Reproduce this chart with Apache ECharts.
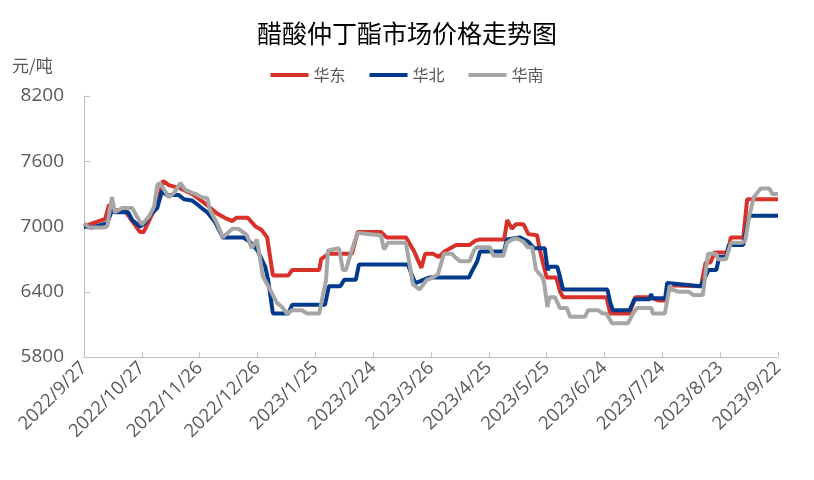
<!DOCTYPE html>
<html>
<head>
<meta charset="utf-8">
<script src="https://cdn.jsdelivr.net/npm/echarts@6/dist/echarts.min.js"></script>
<style>html,body{margin:0;padding:0;background:#fff}#c{width:814px;height:480px}</style>
</head>
<body>
<div id="c"></div>
<script>
// x = days since 2022/9/27, y = price (元/吨)
var xTickLabels = ['2022/9/27','2022/10/27','2022/11/26','2022/12/26','2023/1/25','2023/2/24','2023/3/26','2023/4/25','2023/5/25','2023/6/24','2023/7/24','2023/8/23','2023/9/22'];
var seriesNames = ['华东','华北','华南'];

var eastChina = [[0,7000],[11,7070],[13,7200],[16,7150],[21,7150],[25,7050],[29,6950],[31,6950],[35,7100],[38,7200],[41,7420],[44,7380],[50,7350],[56,7300],[60,7250],[65,7180],[69,7120],[73,7080],[77,7050],[79,7080],[85,7080],[89,7000],[92,6970],[95,6900],[98,6550],[106,6550],[108,6600],[122,6600],[123,6700],[127,6750],[139,6750],[142,6950],[154,6950],[157,6900],[167,6900],[171,6780],[175,6620],[177,6750],[181,6750],[184,6720],[187,6770],[193,6830],[200,6830],[203,6870],[205,6880],[218,6880],[219.5,7060],[222,6980],[224,7020],[228,7020],[230.5,6930],[235,6920],[236.5,6780],[240,6530],[245,6530],[247,6400],[248.5,6350],[271,6350],[273,6200],[283,6200],[286,6350],[293,6350],[298,6320],[302,6320],[304,6460],[320,6450],[322.5,6670],[325,6670],[327,6760],[334,6760],[335.5,6900],[342,6900],[344,7250],[360,7250]];

var northChina = [[0,7000],[4,6990],[12,7030],[14.5,7150],[16,7130],[23,7130],[25,7060],[29,7000],[31.5,7030],[35,7120],[38,7170],[40.5,7330],[43,7290],[49,7290],[52,7250],[56,7240],[59,7200],[61,7170],[64,7130],[68,7040],[72,6900],[82.5,6900],[86,6860],[90,6780],[94,6630],[95.5,6510],[98,6200],[106,6200],[108,6280],[125,6280],[127,6450],[133,6450],[135,6510],[141,6510],[142.6,6650],[168,6650],[170.6,6530],[172,6480],[176,6510],[179,6530],[199.7,6530],[201,6580],[204,6680],[205.4,6770],[217.8,6770],[219.4,6880],[226,6900],[230.5,6860],[233.5,6800],[239,6800],[240.5,6600],[241.5,6630],[245.5,6630],[247,6530],[248.5,6420],[271.5,6420],[273,6300],[274.4,6230],[283,6230],[285.5,6330],[293.5,6330],[294.1,6380],[295,6340],[301.5,6340],[302.5,6480],[320,6450],[324,6600],[328,6600],[329.5,6720],[333,6720],[334.5,6830],[342,6830],[345,7100],[360,7100]];

var southChina = [[0,7030],[2.6,6990],[10,6990],[12,7000],[14.5,7270],[16,7130],[19.7,7170],[25,7170],[27.5,7090],[30,7020],[33.7,7090],[36.3,7180],[38,7380],[39.4,7400],[44,7270],[46.7,7310],[50,7400],[52.4,7340],[56,7310],[59,7290],[61,7270],[64,7260],[65.4,7150],[69,7030],[72,6900],[77,6980],[80,6980],[84.5,6920],[87,6800],[89.7,6880],[92.8,6540],[96.5,6420],[100,6300],[102.7,6260],[105.3,6200],[107.9,6230],[113,6230],[115.7,6200],[122,6200],[125.5,6500],[126.6,6780],[132.3,6800],[134.3,6600],[135.9,6600],[138.5,6760],[141.1,6900],[142.1,6940],[154,6920],[155.6,6790],[157.7,6850],[167,6850],[170.6,6470],[174,6420],[177.9,6510],[181,6530],[183.6,6560],[186.7,6750],[190.9,6750],[192.4,6720],[195,6680],[200,6680],[202.3,6780],[203.8,6810],[210.6,6810],[212.4,6730],[217.5,6730],[219.4,6850],[222,6880],[224.6,6890],[228,6860],[230,6810],[232.5,6810],[234.5,6600],[237.6,6540],[238.6,6490],[240.4,6260],[241.5,6350],[244.3,6350],[246.9,6250],[250.5,6250],[252.1,6170],[259.9,6170],[261.4,6230],[266.6,6230],[269.2,6200],[271,6200],[273.9,6110],[282.2,6110],[284.8,6200],[286.8,6250],[294.3,6250],[295,6200],[301.3,6200],[303.9,6460],[305,6420],[308.6,6400],[313.8,6400],[315.9,6370],[321,6370],[323.7,6750],[327.8,6750],[328.8,6700],[333,6700],[335.6,6850],[341.3,6850],[343,6870],[345,7090],[347.5,7270],[351,7350],[355.5,7350],[357,7300],[360,7300]];

var colors = ['#D7312A','#003A8C','#A6A6A6'];
var FONT = '"Noto Sans CJK SC", sans-serif';
var NUMFONT = '"Open Sans", "Noto Sans CJK SC", sans-serif';

var chart = echarts.init(document.getElementById('c'), null, {renderer:'canvas'});
function mk(name, data, color){
  return {name:name, type:'line', data:data, showSymbol:false, smooth:false,
    lineStyle:{width:4, color:color}, itemStyle:{color:color}};
}
chart.setOption({
  animation:false,
  textStyle:{fontFamily:FONT},
  title:{text:'醋酸仲丁酯市场价格走势图', left:'center', top:16,
    textStyle:{fontSize:25, fontWeight:'normal', color:'#000', fontFamily:FONT}},
  legend:{top:62, left:'center', icon:'rect', itemWidth:38, itemHeight:4, itemGap:24,
    textStyle:{fontSize:16, color:'#595959', fontFamily:FONT},
    data:seriesNames},
  graphic:[{type:'text', left:12, top:57, style:{text:'元/吨', fontSize:17, fill:'#595959', fontFamily:FONT}}],
  grid:{left:84, right:36, top:96, bottom:123},
  xAxis:{type:'value', min:0, max:360, interval:30,
    axisLine:{lineStyle:{color:'#BFBFBF', width:1}},
    axisTick:{inside:true, length:5, lineStyle:{color:'#BFBFBF'}},
    splitLine:{show:false},
    axisLabel:{rotate:45, margin:8, fontSize:18.5, color:'#595959', fontFamily:NUMFONT,
      formatter:function(v){return xTickLabels[Math.round(v/30)];}}},
  yAxis:{type:'value', min:5800, max:8200, interval:600,
    axisLine:{show:true, lineStyle:{color:'#BFBFBF', width:1}},
    axisTick:{show:true, inside:true, length:6, lineStyle:{color:'#BFBFBF'}},
    splitLine:{show:false},
    axisLabel:{fontSize:19, color:'#595959', margin:20, fontFamily:NUMFONT,
      formatter:function(v){return String(v);}}},
  series:[mk(seriesNames[0], eastChina, colors[0]), mk(seriesNames[1], northChina, colors[1]), mk(seriesNames[2], southChina, colors[2])]
});
</script>
</body>
</html>
